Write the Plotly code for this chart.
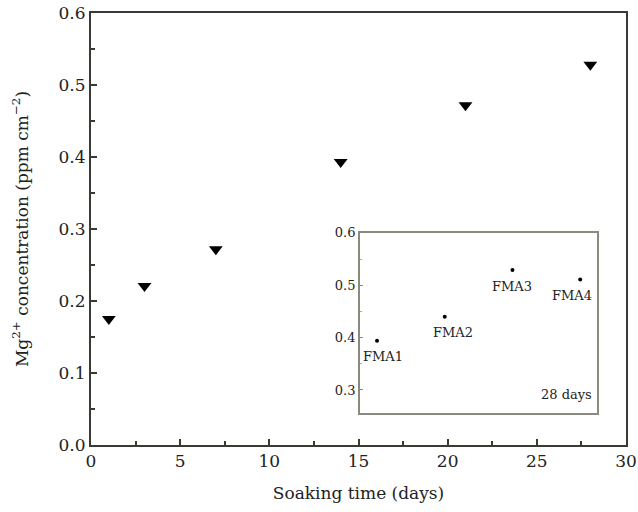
import plotly.graph_objects as go

days = [1, 3, 7, 14, 21, 28]
mg_conc = [0.175, 0.221, 0.272, 0.393, 0.472, 0.528]

inset_labels = ["FMA1", "FMA2", "FMA3", "FMA4"]
inset_pos = [1, 2, 3, 4]
inset_conc = [0.394, 0.440, 0.529, 0.511]

x_ticks = [0, 5, 10, 15, 20, 25, 30]
y_ticks = [0.0, 0.1, 0.2, 0.3, 0.4, 0.5, 0.6]
inset_y_ticks = [0.3, 0.4, 0.5, 0.6]

FONT = "DejaVu Serif"
AX = "#3a3a34"

fig = go.Figure()
fig.add_trace(go.Scatter(
    x=days, y=mg_conc, mode="markers",
    marker=dict(symbol="triangle-down", size=12, color="black"),
    showlegend=False, xaxis="x", yaxis="y"))

fig.add_trace(go.Scatter(
    x=inset_pos, y=inset_conc, mode="markers",
    marker=dict(symbol="circle", size=4, color="black"),
    showlegend=False, xaxis="x2", yaxis="y2"))

shifts = [6, 8, 0, -8]
for lab, xp, yv, sh in zip(inset_labels, inset_pos, inset_conc, shifts):
    fig.add_annotation(x=xp, y=yv, xref="x2", yref="y2", text=lab,
                       showarrow=False, yshift=-16, xshift=sh,
                       font=dict(family=FONT, size=13, color="#222"))

fig.add_annotation(x=0.94, y=0.095, xref="paper", yref="paper",
                   text="28 days", showarrow=False, xanchor="right",
                   font=dict(family=FONT, size=13, color="#222"))

fig.update_layout(
    width=638, height=512,
    margin=dict(l=91, r=12, t=13, b=67, autoexpand=False),
    plot_bgcolor="white", paper_bgcolor="white",
    font=dict(family=FONT, color="#222"),
    xaxis=dict(range=[0, 30], tickvals=x_ticks, ticks="inside", ticklen=6,
               tickwidth=2, tickcolor=AX, showline=True, linecolor=AX,
               linewidth=2, mirror=True, showgrid=False, zeroline=False,
               tickfont=dict(size=17), automargin=False,
               minor=dict(dtick=2.5, ticks="inside", ticklen=4, tickcolor=AX, tickwidth=2),
               title=dict(text="Soaking time (days)", font=dict(size=17), standoff=17)),
    yaxis=dict(range=[0, 0.6], tickvals=y_ticks, ticktext=[f"{v:.1f}" for v in y_ticks],
               ticks="inside", ticklen=6, tickwidth=2, tickcolor=AX,
               showline=True, linecolor=AX, linewidth=2, mirror=True,
               showgrid=False, zeroline=False, tickfont=dict(size=17), automargin=False,
               minor=dict(dtick=0.05, ticks="inside", ticklen=4, tickcolor=AX, tickwidth=2),
               title=dict(text="Mg<sup>2+</sup> concentration (ppm cm<sup>−2</sup>)",
                          font=dict(size=17), standoff=26)),
    xaxis2=dict(domain=[0.503, 0.946], anchor="y2", range=[0.75, 4.25],
                showticklabels=False, ticks="", showline=True, linecolor="#8a8a80",
                linewidth=2, mirror=True, showgrid=False, zeroline=False),
    yaxis2=dict(domain=[0.074, 0.491], anchor="x2", range=[0.256, 0.6],
                tickvals=inset_y_ticks, ticks="inside", ticklen=3, tickcolor="#8a8a80",
                showline=True, linecolor="#8a8a80", linewidth=2, mirror=True,
                showgrid=False, zeroline=False, tickfont=dict(size=13),
                minor=dict(dtick=0.05, ticks="inside", ticklen=2, tickcolor="#aaa")),
)

fig.write_html("out.html", config={"displayModeBar": False},
               post_script="document.body.style.margin='0';document.body.style.overflow='hidden';")
